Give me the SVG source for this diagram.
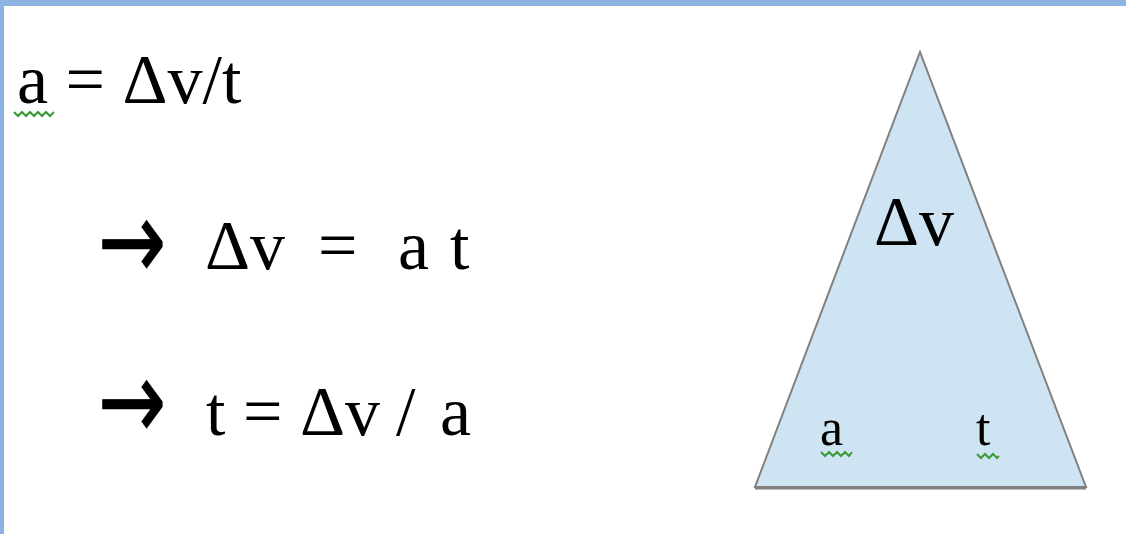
<svg xmlns="http://www.w3.org/2000/svg" width="1126" height="534" viewBox="0 0 1126 534">
<style>
.eq{font-family:"Liberation Serif","Times New Roman",serif;font-size:70px;fill:#000}
.sm{font-family:"Liberation Serif","Times New Roman",serif;font-size:52px;fill:#000}
.arr{font-family:"DejaVu Sans",sans-serif;font-size:72px;fill:#000;stroke:#000;stroke-width:0.6}
.sq{fill:none;stroke:#3a9a3a;stroke-width:2}
</style>
<rect x="0" y="0" width="1126" height="534" fill="#ffffff"/>
<rect x="0" y="0" width="1126" height="6" fill="#8db3e2"/>
<rect x="0" y="0" width="4" height="534" fill="#8db3e2"/>
<g id="equations">
<text class="eq" x="17" y="103">a = Δv/t</text>
<polyline class="sq" points="14,112 18,116 22,112 26,116 30,112 34,116 38,112 42,116 46,112 50,116 54,112"/>
<text class="arr" transform="translate(98,243) scale(1.13,1.55)" x="0" y="23">→</text>
<text class="eq" y="269"><tspan x="205">Δv</tspan><tspan x="318">=</tspan><tspan x="398">a</tspan><tspan x="450">t</tspan></text>
<text class="arr" transform="translate(98,403) scale(1.13,1.55)" x="0" y="23">→</text>
<text class="eq" y="435"><tspan x="206">t</tspan><tspan x="243">=</tspan><tspan x="300">Δv</tspan><tspan x="396">/</tspan><tspan x="440">a</tspan></text>
</g>
<g id="triangle">
<polygon points="920,52 755,487 1086,487" fill="#cfe4f3" stroke="#808080" stroke-width="2"/>
<line x1="755" y1="488" x2="1086" y2="488" stroke="#808080" stroke-width="3"/>
<text class="eq" x="874" y="245">Δv</text>
<text class="sm" x="820" y="445">a</text>
<text class="sm" x="976" y="445">t</text>
<polyline class="sq" points="821,452 825,456 829,452 833,456 837,452 841,456 845,452 849,456 852,452"/>
<polyline class="sq" points="977,454 981,458 985,454 989,458 993,454 997,458 999,456"/>
</g>
</svg>
